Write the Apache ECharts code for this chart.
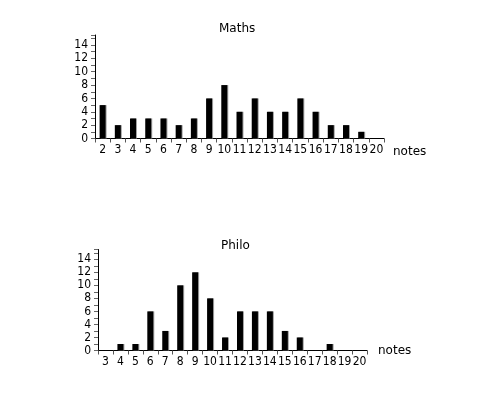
<!DOCTYPE html>
<html>
<head>
<meta charset="utf-8">
<script src="https://cdn.jsdelivr.net/npm/echarts@6/dist/echarts.min.js"></script>
<style>
  html, body { margin: 0; padding: 0; background: #fff; }
  #chart { width: 480px; height: 398px; }
</style>
</head>
<body>
<div id="chart"></div>
<script>
// grades on the x axis, counts of students per grade
const mathsNotes = ['2', '3', '4', '5', '6', '7', '8', '9', '10', '11', '12', '13', '14', '15', '16', '17', '18', '19', '20'];
const mathsCounts = [5, 2, 3, 3, 3, 2, 3, 6, 8, 4, 6, 4, 4, 6, 4, 2, 2, 1, 0];

const philoNotes = ['3', '4', '5', '6', '7', '8', '9', '10', '11', '12', '13', '14', '15', '16', '17', '18', '19', '20'];
const philoCounts = [0, 1, 1, 6, 3, 10, 12, 8, 2, 6, 6, 6, 3, 2, 0, 1, 0, 0];

const TICK_FONT = '"Liberation Sans Narrow", "DejaVu Sans Condensed", sans-serif';
const TEXT_FONT = '"DejaVu Sans", Verdana, sans-serif';

function xAxisFor(gridIndex, data, nameGap, nameStyle) {
  return {
    type: 'category',
    gridIndex,
    data,
    name: 'notes',
    nameLocation: 'end',
    nameGap,
    nameTextStyle: Object.assign({
      color: '#000',
      fontFamily: TEXT_FONT,
      fontSize: 12
    }, nameStyle),
    axisLine: { lineStyle: { color: '#000', width: 1 } },
    axisTick: { show: true, length: 4, lineStyle: { color: '#555' } },
    axisLabel: {
      color: '#000',
      fontFamily: TICK_FONT,
      fontSize: 12,
      margin: 5,
      interval: 0
    },
    splitLine: { show: false }
  };
}

function yAxisFor(gridIndex) {
  return {
    type: 'value',
    gridIndex,
    min: 0,
    max: 15.5,
    interval: 1,
    axisLine: { show: true, lineStyle: { color: '#000', width: 1 } },
    axisTick: { show: true, length: 4, lineStyle: { color: '#666' } },
    axisLabel: {
      color: '#000',
      fontFamily: TICK_FONT,
      fontSize: 12,
      margin: 7,
      formatter: v => (v % 2 === 0 ? String(v) : '')
    },
    splitLine: { show: false }
  };
}

const barStyle = {
  color: '#000',
  shadowColor: '#a0a0a0',
  shadowBlur: 0,
  shadowOffsetX: 1,
  shadowOffsetY: 0
};

const chart = echarts.init(document.getElementById('chart'), null, { renderer: 'canvas' });

chart.setOption({
  backgroundColor: '#fff',
  animation: false,
  title: [
    {
      text: 'Maths',
      left: 214,
      top: 18,
      textStyle: { color: '#000', fontFamily: TEXT_FONT, fontSize: 12, fontWeight: 'normal' }
    },
    {
      text: 'Philo',
      left: 216,
      top: 235,
      textStyle: { color: '#000', fontFamily: TEXT_FONT, fontSize: 12, fontWeight: 'normal' }
    }
  ],
  grid: [
    { left: 95, right: 96, top: 35, height: 103.5 },
    { left: 98, right: 113, top: 249.5, height: 101 }
  ],
  xAxis: [
    xAxisFor(0, mathsNotes, 9, { verticalAlign: 'top', lineHeight: 26 }),
    xAxisFor(1, philoNotes, 11, { verticalAlign: 'middle' })
  ],
  yAxis: [
    yAxisFor(0),
    yAxisFor(1)
  ],
  series: [
    {
      type: 'bar',
      xAxisIndex: 0,
      yAxisIndex: 0,
      data: mathsCounts,
      barWidth: 6,
      itemStyle: barStyle
    },
    {
      type: 'bar',
      xAxisIndex: 1,
      yAxisIndex: 1,
      data: philoCounts,
      barWidth: 6,
      itemStyle: barStyle
    }
  ]
});
</script>
</body>
</html>
